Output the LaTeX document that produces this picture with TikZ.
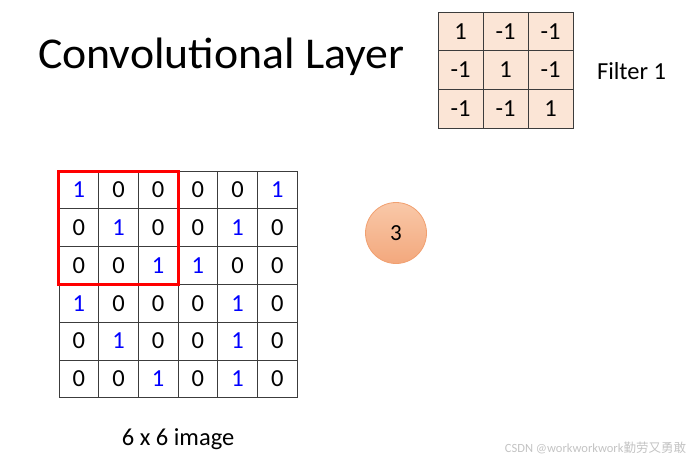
\documentclass[tikz,border=0pt]{standalone}
\usepackage{fontspec}
\setmainfont{Carlito}
\newfontfamily\cjkfont{Noto Sans CJK SC}
\usetikzlibrary{positioning}
\definecolor{FilterFill}{RGB}{251,229,214}
\definecolor{GridLine}{RGB}{60,60,60}
\definecolor{OneBlue}{RGB}{0,0,255}
\definecolor{WindowRed}{RGB}{255,0,0}
\definecolor{DotTop}{RGB}{249,200,168}
\definecolor{DotBottom}{RGB}{243,168,125}
\definecolor{DotEdge}{RGB}{241,160,112}
\definecolor{MarkGray}{RGB}{195,195,195}

\begin{document}
\begin{tikzpicture}[x=1pt, y=-1pt,
    every node/.style={inner sep=0pt, outer sep=0pt},
    digit/.style={font=\fontsize{24.5}{24.5}\selectfont},
    filtercell/.style={digit, draw=GridLine, line width=0.9pt, fill=FilterFill, minimum width=45pt, minimum height=38.7pt},
    imgcell/.style={digit, draw=GridLine, line width=0.9pt, minimum width=39.7pt, minimum height=37.8pt},
    label/.style={font=\fontsize{24.5}{24.5}\selectfont}]
  \useasboundingbox (0,0) rectangle (690,463);

  % title
  \node[anchor=base west, font=\fontsize{44}{44}\selectfont, xscale=1.04] (title) at (38,68) {Convolutional Layer};

  % filter 1
  \foreach \v [count=\k from 0] in {1,-1,-1,-1,1,-1,-1,-1,1} {
    \pgfmathtruncatemacro\r{\k/3}
    \pgfmathtruncatemacro\c{mod(\k,3)}
    \node[filtercell] (f-\r-\c) at (460.5+45*\c, 31.3+38.7*\r) {\v};
  }
  \node[label, anchor=west] (flabel) at (597,71) {Filter 1};

  % 6 x 6 image
  \foreach \v [count=\k from 0] in {1,0,0,0,0,1, 0,1,0,0,1,0, 0,0,1,1,0,0,
                                    1,0,0,0,1,0, 0,1,0,0,1,0, 0,0,1,0,1,0} {
    \pgfmathtruncatemacro\r{\k/6}
    \pgfmathtruncatemacro\c{mod(\k,6)}
    \ifnum\v=1 \def\numcol{OneBlue}\else \def\numcol{black}\fi
    \node[imgcell, text=\numcol] (img-\r-\c) at (78.8+39.7*\c, 189.9+37.8*\r) {\v};
  }
  \draw[WindowRed, line width=3pt] (img-0-0.north west) rectangle (img-2-2.south east);
  \node[label, anchor=base] (ilabel) at (img-5-2.south east |- 0,445) {6 x 6 image};

  % result of the window
  \node[circle, font=\fontsize{23}{23}\selectfont, minimum size=61pt, draw=DotEdge, line width=0.8pt,
        top color=DotTop, bottom color=DotBottom] (sum) at (396,233) {3};

  \node[anchor=base east, text=MarkGray, font=\fontsize{12.5}{12.5}\selectfont] (mark) at (686,452)
    {CSDN @workworkwork{\cjkfont 勤劳又勇敢}};
\end{tikzpicture}
\end{document}
